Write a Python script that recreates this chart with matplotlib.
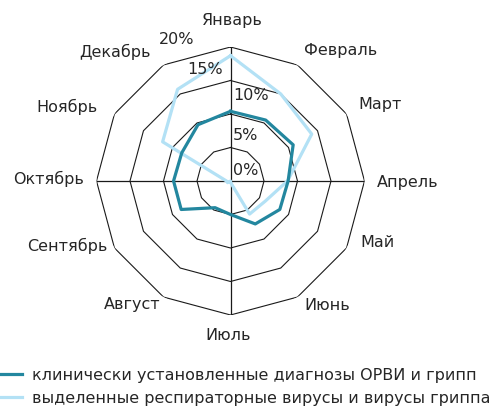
import matplotlib
matplotlib.use("Agg")
import matplotlib.pyplot as plt
import numpy as np

months = ["Январь", "Февраль", "Март", "Апрель", "Май", "Июнь",
          "Июль", "Август", "Сентябрь", "Октябрь", "Ноябрь", "Декабрь"]
# % of cases per month
clinical = [10.4, 10.5, 10.8, 8.6, 8.5, 7.4, 5.0, 4.6, 8.5, 8.5, 8.4, 9.7]
viruses = [18.7, 15.0, 14.0, 8.5, 6.0, 5.7, 0.2, 0.0, 0.5, 0.6, 11.7, 15.8]
rings = [5, 10, 15, 20]
ring_labels = ["0%", "5%", "10%", "15%", "20%"]
series_names = ["клинически установленные диагнозы ОРВИ и грипп",
                "выделенные респираторные вирусы и вирусы гриппа"]

teal = "#23879f"
light = "#b3e1f5"
txt = "#262626"
fs = 11.5

W, H = 491, 412
cx, cy, R = 230.5, 181, 134

fig = plt.figure(figsize=(W / 100, H / 100), dpi=100)
ax = fig.add_axes([(cx - R) / W, 1 - (cy + R) / H, 2 * R / W, 2 * R / H],
                  projection="polar")
ax.set_theta_zero_location("N")
ax.set_theta_direction(-1)
ax.set_ylim(0, 20)
ax.set_axis_off()

theta = np.arange(len(months)) * 2 * np.pi / len(months)
tc = np.append(theta, theta[0])

# polygon grid
for r in rings:
    ax.plot(tc, [r] * len(tc), color="#1a1a1a", lw=0.8, zorder=1)
for i in [0, 3]:
    ax.plot([theta[i], theta[i], theta[i] + np.pi], [20, 0, 20],
            color="#1a1a1a", lw=0.9, zorder=1)

l2, = ax.plot(tc, np.append(viruses, viruses[0]), color=light, lw=2.3, zorder=3)
l1, = ax.plot(tc, np.append(clinical, clinical[0]), color=teal, lw=2.3, zorder=4)

# month labels (pixel positions)
label_pos = [(232, 20), (341, 51), (380, 104), (408, 182), (378, 243), (327, 305),
             (228, 335), (132, 305), (67, 246), (49, 179), (67, 107), (115, 52)]
for m, (x, y) in zip(months, label_pos):
    fig.text(x / W, 1 - y / H, m, ha="center", va="center", fontsize=fs, color=txt)

# radial labels
rl_pos = [(233, 171), (233, 135), (233, 96), (205, 69), (177, 40)]
for i, (s, (x, y)) in enumerate(zip(ring_labels, rl_pos)):
    ha = "left" if i < 3 else "center"
    fig.text(x / W, 1 - y / H, s, ha=ha, va="center", fontsize=fs, color=txt)

fig.legend([l1, l2], series_names, loc="upper left",
           bbox_to_anchor=(0.0, 1 - 368 / H), frameon=False, fontsize=fs,
           handlelength=1.4, handletextpad=0.6, borderpad=0, borderaxespad=0,
           labelspacing=0.48, labelcolor=txt)

fig.savefig("out.png", dpi=100)
